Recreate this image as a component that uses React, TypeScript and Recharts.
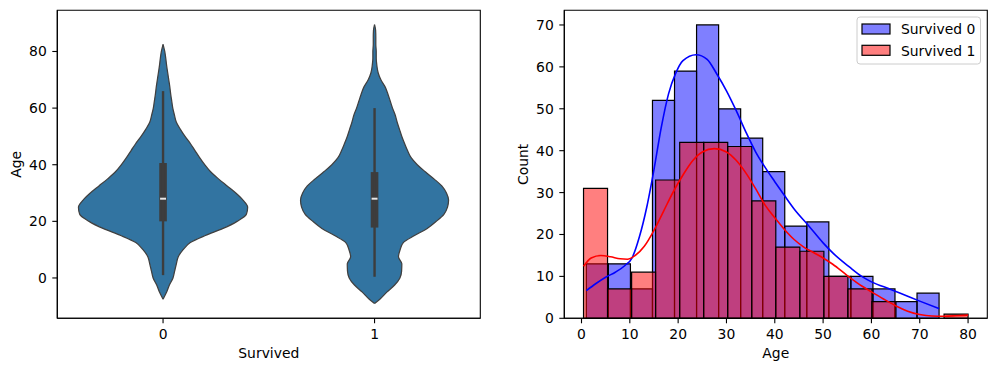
import React from 'react';
import { ComposedChart, Area, Line, XAxis, YAxis, ReferenceArea, ReferenceLine } from 'recharts';

const FONT = '"DejaVu Sans", Verdana, sans-serif';
const FS = 13.9;

// ---------- Violin plot (left) ----------
const violinCategories = [0, 1];
const violinTicks = [0, 20, 40, 60, 80];
const violinXDomain = [-0.5, 1.5];
const violinYDomain = [-14.25, 94.55];
const violinAges = [-9, -7.5, -5, -2.5, 0, 2.5, 5, 7.5, 10, 12.5, 15, 17.5, 20, 22.5, 25, 27.5, 30, 32.5, 35, 37.5, 40, 42.5, 45, 47.5, 50, 52.5, 55, 57.5, 60, 62.5, 65, 67.5, 70, 72.5, 75, 77.5, 80, 82.5, 85, 87.5, 89.5];
// half widths (in category units) of the violin for Survived = 0
const violinHalfWidth0 = [null, 0, 0.017, 0.03, 0.047, 0.055, 0.063, 0.072, 0.095, 0.129, 0.2, 0.284, 0.35, 0.394, 0.4, 0.378, 0.344, 0.303, 0.262, 0.225, 0.197, 0.173, 0.151, 0.129, 0.104, 0.082, 0.063, 0.054, 0.046, 0.041, 0.036, 0.032, 0.027, 0.022, 0.017, 0.013, 0.008, 0, null, null, null];
// half widths of the violin for Survived = 1
const violinHalfWidth1 = [0, 0.025, 0.058, 0.095, 0.12, 0.128, 0.129, 0.113, 0.121, 0.136, 0.189, 0.249, 0.292, 0.328, 0.345, 0.35, 0.34, 0.318, 0.281, 0.24, 0.202, 0.173, 0.156, 0.142, 0.129, 0.118, 0.107, 0.098, 0.085, 0.074, 0.063, 0.05, 0.03, 0.017, 0.011, 0.008, 0.008, 0.006, 0.006, 0.005, 0];
const boxLow = [20.0, 17.8];
const boxHigh = [40.6, 37.4];
const medians = [28, 28];
const whiskerLow = [1, 0.42];
const whiskerHigh = [66, 60];

// ---------- Histogram (right) ----------
const ageTicks = [0, 10, 20, 30, 40, 50, 60, 70, 80];
const countTicks = [0, 10, 20, 30, 40, 50, 60, 70];
const histXDomain = [-3.56, 83.98];
const histYDomain = [0, 73.5];
const blueEdges = [1, 5.5625, 10.125, 14.6875, 19.25, 23.8125, 28.375, 32.9375, 37.5, 42.0625, 46.625, 51.1875, 55.75, 60.3125, 64.875, 69.4375, 74];
const blueCounts = [13, 13, 7, 52, 59, 70, 50, 43, 35, 22, 23, 10, 10, 7, 4, 6];
const redEdges = [0.42, 5.39, 10.37, 15.34, 20.32, 25.29, 30.26, 35.24, 40.21, 45.19, 50.16, 55.13, 60.11, 65.08, 70.06, 75.03, 80];
const redCounts = [31, 7, 11, 33, 42, 42, 41, 28, 17, 16, 10, 7, 4, 0, 0, 1];
const blueKdeAge = [1, 3, 5, 7, 9, 10.5, 12, 13.5, 15, 16.5, 18, 19.5, 21, 23.7, 26, 28, 30, 32, 34, 36, 38, 40, 42, 44, 47, 50, 52, 55.5, 58, 60, 64, 67, 70, 74];
const blueKdeCount = [6.6, 8.3, 9.8, 11.0, 12.6, 14.5, 19.5, 26.5, 35.5, 45.5, 53.5, 58.5, 61.5, 62.9, 61.8, 58.3, 54.3, 49.6, 44.5, 39.8, 36.0, 32.6, 29.3, 26.1, 22.1, 18.0, 15.6, 12.2, 10.0, 8.7, 6.9, 5.5, 4.1, 2.3];
const redKdeAge = [0.42, 2, 4, 6, 8, 9.5, 11, 13, 15, 17, 19, 21, 23, 25, 27.5, 30, 32, 34, 36, 38, 40, 42, 44, 46, 48, 50, 52, 55, 58, 60, 62.5, 65, 67.5, 70, 72.5, 75, 77.5, 80];
const redKdeCount = [12.4, 14.4, 15.0, 14.7, 14.2, 14.1, 14.9, 17.2, 21.0, 25.6, 30.2, 34.2, 37.6, 39.7, 40.5, 39.7, 37.7, 34.7, 31.0, 27.0, 24.0, 21.2, 18.8, 17.0, 15.7, 14.4, 12.9, 10.2, 7.7, 6.3, 4.6, 3.0, 1.7, 0.9, 0.55, 0.5, 0.6, 0.75];
const seriesNames = ['Survived 0', 'Survived 1'];
const seriesColors = ['#0000ff', '#ff0000'];

const violinRows0 = violinAges
  .map((age, i) => ({ age, w: violinHalfWidth0[i] }))
  .filter((r) => r.w != null);
const violinRows1 = violinAges
  .map((age, i) => ({ age, w: violinHalfWidth1[i] }))
  .filter((r) => r.w != null);
const violinRowsByCat = [violinRows0, violinRows1];
const blueKde = blueKdeAge.map((age, i) => ({ age, count: blueKdeCount[i] }));
const redKde = redKdeAge.map((age, i) => ({ age, count: redKdeCount[i] }));

const tickStyle = { fill: '#000', fontSize: FS, fontFamily: FONT };
const axisLineStyle = { stroke: '#000', strokeWidth: 1.1 };
const tickLineStyle = { stroke: '#000', strokeWidth: 1.1 };

const xLabel = (text: string) => (props: any) => {
  const vb = props && props.viewBox ? props.viewBox : null;
  const cx = vb && vb.width ? vb.x + vb.width / 2 : 268.8;
  return (
    <text x={cx} y={358.3} textAnchor="middle" fill="#000" fontSize={FS} fontFamily={FONT}>
      {text}
    </text>
  );
};

const yLabel = (text: string, bx: number) => (props: any) => {
  const vb = props && props.viewBox ? props.viewBox : null;
  const cy = vb && vb.height ? vb.y + vb.height / 2 : 164.3;
  return (
    <text x={bx} y={cy} transform={`rotate(-90, ${bx}, ${cy})`} textAnchor="middle" fill="#000" fontSize={FS} fontFamily={FONT}>
      {text}
    </text>
  );
};

const violinKey = (idx: number) => (row: any) => {
  const c = violinCategories[idx];
  return [c - row.w, c + row.w];
};

function ViolinChart() {
  return (
    <ComposedChart width={498} height={371} layout="vertical" margin={{ top: 10.3, right: 17.7, bottom: 0, left: 0 }}>
      <XAxis
        xAxisId={0}
        type="number"
        domain={violinXDomain}
        ticks={violinCategories}
        allowDataOverflow
        height={52.7}
        tick={tickStyle}
        tickSize={5}
        tickMargin={5.5}
        axisLine={axisLineStyle}
        tickLine={tickLineStyle}
        label={xLabel('Survived')}
      />
      <YAxis
        yAxisId={0}
        type="number"
        dataKey="age"
        domain={violinYDomain}
        ticks={violinTicks}
        allowDataOverflow
        reversed
        width={57.3}
        tick={tickStyle}
        tickSize={5}
        tickMargin={5.5}
        axisLine={axisLineStyle}
        tickLine={tickLineStyle}
        label={yLabel('Age', 21.3)}
      />
      {violinCategories.map((c, i) => (
        <Area
          key={'violin' + i}
          xAxisId={0}
          yAxisId={0}
          data={violinRowsByCat[i]}
          dataKey={violinKey(i)}
          type="monotone"
          fill="#3274a1"
          fillOpacity={1}
          stroke="#404040"
          strokeWidth={1.25}
          dot={false}
          activeDot={false}
          isAnimationActive={false}
        />
      ))}
      {violinCategories.map((c, i) => (
        <ReferenceLine
          key={'whisker' + i}
          xAxisId={0}
          yAxisId={0}
          segment={[{ x: c, y: whiskerLow[i] }, { x: c, y: whiskerHigh[i] }]}
          stroke="#3d3d3d"
          strokeWidth={2.4}
        />
      ))}
      {violinCategories.map((c, i) => (
        <ReferenceArea
          key={'box' + i}
          xAxisId={0}
          yAxisId={0}
          x1={c - 0.018}
          x2={c + 0.018}
          y1={boxLow[i]}
          y2={boxHigh[i]}
          fill="#3d3d3d"
          fillOpacity={1}
          stroke="none"
        />
      ))}
      {violinCategories.map((c, i) => (
        <ReferenceLine
          key={'median' + i}
          xAxisId={0}
          yAxisId={0}
          segment={[{ x: c - 0.014, y: medians[i] }, { x: c + 0.014, y: medians[i] }]}
          stroke="#e8e8e8"
          strokeWidth={2}
        />
      ))}
      <ReferenceArea
        xAxisId={0}
        yAxisId={0}
        x1={violinXDomain[0]}
        x2={violinXDomain[1]}
        y1={violinYDomain[0]}
        y2={violinYDomain[1]}
        fill="none"
        stroke="#000"
        strokeWidth={1.1}
        ifOverflow="visible"
      />
    </ComposedChart>
  );
}

function HistChart() {
  const series = [
    { edges: blueEdges, counts: blueCounts, color: seriesColors[0] },
    { edges: redEdges, counts: redCounts, color: seriesColors[1] },
  ];
  return (
    <ComposedChart width={498} height={371} margin={{ top: 10.3, right: 8.7, bottom: 0, left: 0 }}>
      <XAxis
        xAxisId={0}
        type="number"
        dataKey="age"
        domain={histXDomain}
        ticks={ageTicks}
        allowDataOverflow
        height={52.7}
        tick={tickStyle}
        tickSize={5}
        tickMargin={5.5}
        axisLine={axisLineStyle}
        tickLine={tickLineStyle}
        label={xLabel('Age')}
      />
      <YAxis
        yAxisId={0}
        type="number"
        domain={histYDomain}
        ticks={countTicks}
        allowDataOverflow
        width={66.3}
        tick={tickStyle}
        tickSize={5}
        tickMargin={5.5}
        axisLine={axisLineStyle}
        tickLine={tickLineStyle}
        label={yLabel('Count', 30.5)}
      />
      {series.map((s, si) =>
        s.counts.map((cnt, i) =>
          cnt > 0 ? (
            <ReferenceArea
              key={'bar' + si + '-' + i}
              xAxisId={0}
              yAxisId={0}
              x1={s.edges[i]}
              x2={s.edges[i + 1]}
              y1={0}
              y2={cnt}
              fill={s.color}
              fillOpacity={0.5}
              stroke="#000"
              strokeWidth={1.2}
              ifOverflow="visible"
            />
          ) : null
        )
      )}
      <Line xAxisId={0} yAxisId={0} data={blueKde} dataKey="count" type="monotone" stroke={seriesColors[0]} strokeWidth={1.6} dot={false} activeDot={false} isAnimationActive={false} />
      <Line xAxisId={0} yAxisId={0} data={redKde} dataKey="count" type="monotone" stroke={seriesColors[1]} strokeWidth={1.6} dot={false} activeDot={false} isAnimationActive={false} />
      <ReferenceArea
        xAxisId={0}
        yAxisId={0}
        x1={histXDomain[0]}
        x2={histXDomain[1]}
        y1={histYDomain[0]}
        y2={histYDomain[1]}
        fill="none"
        stroke="#000"
        strokeWidth={1.1}
        ifOverflow="visible"
      />
    </ComposedChart>
  );
}

function HistLegend() {
  return (
    <svg width={126} height={50} style={{ position: 'absolute', left: 855.5, top: 15.5 }}>
      <rect x={1} y={1} width={123.5} height={47} rx={3} ry={3} fill="#fff" fillOpacity={0.8} stroke="#cccccc" strokeWidth={1} />
      {seriesNames.map((name, i) => (
        <g key={name}>
          <rect x={6} y={8 + i * 21.3} width={28} height={10} fill={seriesColors[i]} fillOpacity={0.5} stroke="#000" strokeWidth={1.2} />
          <text x={45} y={18.2 + i * 21.3} fill="#000" fontSize={FS} fontFamily={FONT}>
            {name}
          </text>
        </g>
      ))}
    </svg>
  );
}

export default function App() {
  return (
    <div style={{ position: 'absolute', left: 0, top: 0, width: 996, height: 371, background: '#fff', overflow: 'hidden' }}>
      <div style={{ position: 'absolute', left: 0, top: 0 }}>
        <ViolinChart />
      </div>
      <div style={{ position: 'absolute', left: 498, top: 0 }}>
        <HistChart />
      </div>
      <HistLegend />
    </div>
  );
}
